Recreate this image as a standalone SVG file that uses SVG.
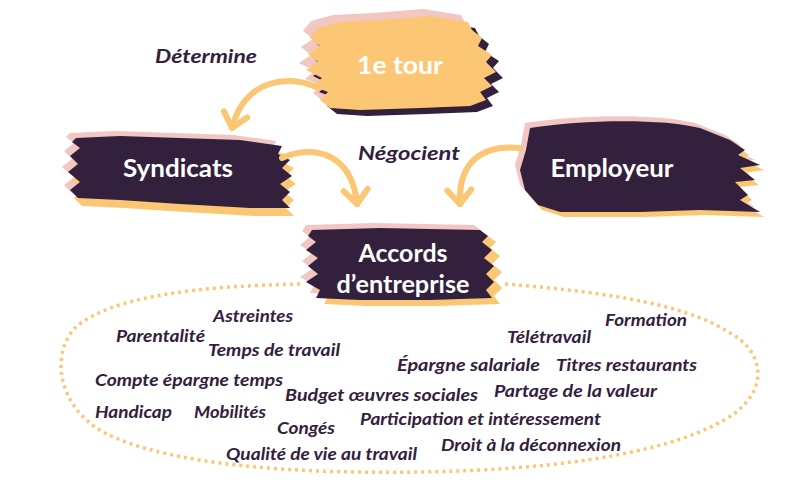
<svg xmlns="http://www.w3.org/2000/svg" width="800" height="500" viewBox="0 0 800 500">
<defs>
<style>
.dark{fill:#33203d}
.yel{fill:#fcc774}
.pink{fill:#f2c6c3}
text{font-family:Lato,"Open Sans",sans-serif;font-weight:700}
.title{fill:#ffffff;text-anchor:middle;font-size:24px}
.lbl{font-style:italic;fill:#33203d;font-size:19px}
.item{font-style:italic;fill:#33203d;font-size:17px}
.arrow{fill:none;stroke:#fcc774;stroke-width:6;stroke-linecap:round;stroke-linejoin:round}
.loop{fill:none;stroke:#fcc774;stroke-width:3.5;stroke-dasharray:3 4}
</style>
<marker id="vhead" markerUnits="userSpaceOnUse" markerWidth="40" markerHeight="40" viewBox="-20 -20 40 40" refX="0" refY="0" orient="auto">
<path d="M-14,-12 L0,0 L-14,12" fill="none" stroke="#fcc774" stroke-width="6" stroke-linecap="round" stroke-linejoin="round"/>
</marker>
<path id="b-tour" d="M318,28 L340,22 L380,20 L430,16 L468,22 L472,30 L482,38 L478,46 L492,55 L486,62 L496,72 L484,78 L492,86 L480,92 L486,100 L470,106 L420,108 L360,110 L330,108 L320,100 L328,92 L312,86 L322,78 L306,70 L318,62 L308,54 L320,46 L310,38 Z"/>
<path id="b-syn" d="M76,138 L120,136 L180,138 L240,140 L282,146 L278,154 L290,160 L282,168 L292,176 L280,184 L290,192 L282,200 L290,208 L250,208 L180,204 L120,200 L78,198 L70,190 L80,182 L68,172 L78,164 L70,156 L80,148 L72,142 Z"/>
<path id="b-emp" d="M530,128 C580,120 660,118 700,128 L730,140 L745,150 L738,155 L760,165 L740,168 L755,180 L735,182 L748,195 L740,200 L760,212 L700,210 L640,212 L560,212 L538,205 L525,190 L520,170 L526,150 Z"/>
<path id="b-acc" d="M312,230 L380,228 L480,230 L488,236 L482,242 L492,250 L484,258 L494,266 L486,274 L494,282 L486,290 L492,298 L430,300 L360,300 L316,298 L320,290 L306,282 L318,274 L308,266 L318,258 L306,250 L316,242 L308,236 Z"/>
</defs>
<rect width="800" height="500" fill="#ffffff"/>

<path class="loop" d="M300,284 C200,286 110,296 75,328 C50,355 58,408 105,433 C170,466 300,474 420,472 C560,470 680,452 735,413 C770,386 762,350 730,333 C690,307 620,293 505,284"/>

<g id="node-tour">
<use href="#b-tour" class="pink" transform="translate(-7,-7)"/>
<use href="#b-tour" class="dark" transform="translate(7,6)"/>
<use href="#b-tour" class="yel"/>
<text class="title" x="400" y="74" textLength="86" lengthAdjust="spacingAndGlyphs">1e tour</text>
</g>

<g id="node-syndicats">
<use href="#b-syn" class="pink" transform="translate(-6,-5)"/>
<use href="#b-syn" class="yel" transform="translate(4,8)"/>
<use href="#b-syn" class="dark"/>
<text class="title" x="178" y="177" textLength="110" lengthAdjust="spacingAndGlyphs">Syndicats</text>
</g>

<g id="node-employeur">
<use href="#b-emp" class="pink" transform="translate(-5,-5)"/>
<use href="#b-emp" class="yel" transform="translate(4,5)"/>
<use href="#b-emp" class="dark"/>
<text class="title" x="612" y="177" textLength="123" lengthAdjust="spacingAndGlyphs">Employeur</text>
</g>

<g id="node-accords">
<use href="#b-acc" class="pink" transform="translate(-6,-5)"/>
<use href="#b-acc" class="yel" transform="translate(8,6)"/>
<use href="#b-acc" class="dark"/>
<text class="title" x="403" y="262" textLength="89" lengthAdjust="spacingAndGlyphs">Accords</text>
<text class="title" x="403" y="293" textLength="133" lengthAdjust="spacingAndGlyphs">d’entreprise</text>
</g>

<g id="connectors">
<path class="arrow" d="M318,88 C290,74 245,78 232,128" marker-end="url(#vhead)"/>
<path class="arrow" d="M282,158 C312,144 352,152 357,204" marker-end="url(#vhead)"/>
<path class="arrow" d="M520,148 C482,144 458,162 460,204" marker-end="url(#vhead)"/>
<text class="lbl" x="155" y="63" textLength="102" lengthAdjust="spacingAndGlyphs">Détermine</text>
<text class="lbl" x="358" y="160" textLength="102" lengthAdjust="spacingAndGlyphs">Négocient</text>
</g>

<g id="items">
<text class="item" x="213" y="322" textLength="80" lengthAdjust="spacingAndGlyphs">Astreintes</text>
<text class="item" x="116" y="342" textLength="89" lengthAdjust="spacingAndGlyphs">Parentalité</text>
<text class="item" x="208" y="356" textLength="132" lengthAdjust="spacingAndGlyphs">Temps de travail</text>
<text class="item" x="95" y="386" textLength="188" lengthAdjust="spacingAndGlyphs">Compte épargne temps</text>
<text class="item" x="285" y="401" textLength="193" lengthAdjust="spacingAndGlyphs">Budget œuvres sociales</text>
<text class="item" x="95" y="418" textLength="77" lengthAdjust="spacingAndGlyphs">Handicap</text>
<text class="item" x="194" y="418" textLength="72" lengthAdjust="spacingAndGlyphs">Mobilités</text>
<text class="item" x="277" y="434" textLength="58" lengthAdjust="spacingAndGlyphs">Congés</text>
<text class="item" x="226" y="460" textLength="191" lengthAdjust="spacingAndGlyphs">Qualité de vie au travail</text>
<text class="item" x="605" y="326" textLength="82" lengthAdjust="spacingAndGlyphs">Formation</text>
<text class="item" x="507" y="343" textLength="84" lengthAdjust="spacingAndGlyphs">Télétravail</text>
<text class="item" x="397" y="371" textLength="143" lengthAdjust="spacingAndGlyphs">Épargne salariale</text>
<text class="item" x="556" y="371" textLength="141" lengthAdjust="spacingAndGlyphs">Titres restaurants</text>
<text class="item" x="494" y="397" textLength="163" lengthAdjust="spacingAndGlyphs">Partage de la valeur</text>
<text class="item" x="360" y="425" textLength="241" lengthAdjust="spacingAndGlyphs">Participation et intéressement</text>
<text class="item" x="441" y="451" textLength="180" lengthAdjust="spacingAndGlyphs">Droit à la déconnexion</text>
</g>
</svg>
